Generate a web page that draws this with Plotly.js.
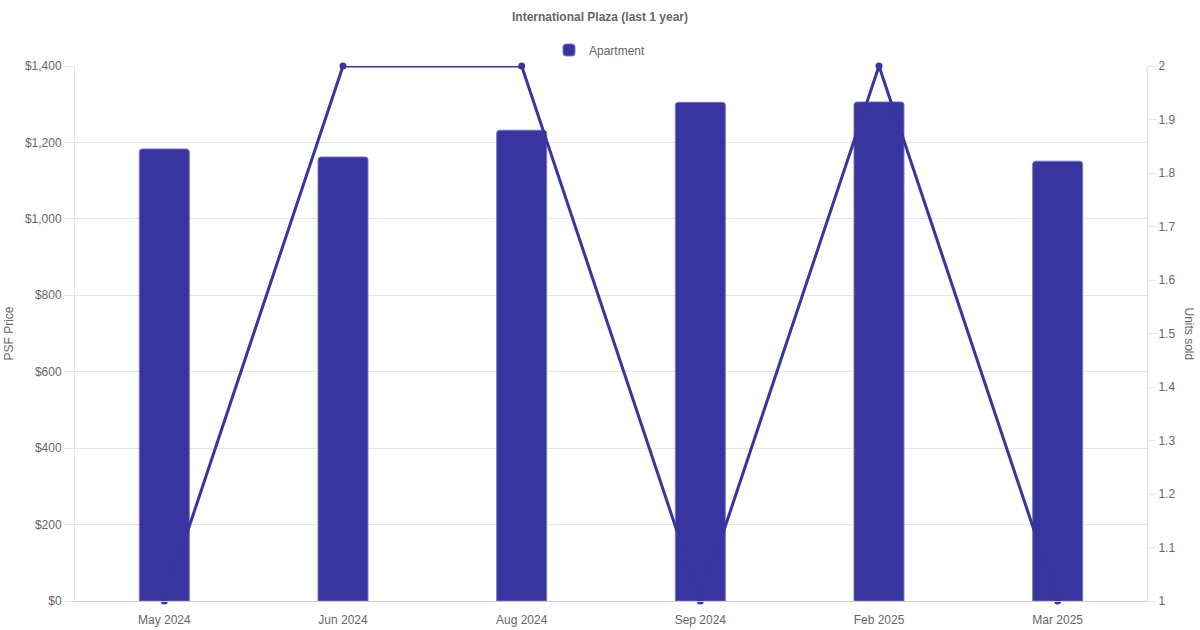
<!DOCTYPE html>
<html>
<head>
<meta charset="utf-8">
<script src="https://cdn.plot.ly/plotly-3.0.1.min.js"></script>
<style>
  html, body { margin: 0; padding: 0; background: #fff; }
  #chart { width: 1200px; height: 630px; }
</style>
</head>
<body>
<div id="chart"></div>
<script>
const months = ["May 2024", "Jun 2024", "Aug 2024", "Sep 2024", "Feb 2025", "Mar 2025"];
const psfPrice = [1183, 1162, 1232, 1305, 1306, 1151];
const unitsSold = [1, 2, 2, 1, 2, 1];
const seriesName = "Apartment";
const chartTitle = "International Plaza (last 1 year)";

const mainColor = "#3935a0";
const textColor = "#666666";
const gridColor = "#e5e5e5";
const font = { family: "Liberation Sans, Arial, Helvetica, sans-serif", size: 12, color: textColor };

const traces = [
  {
    type: "bar",
    x: months,
    y: psfPrice,
    name: seriesName,
    width: 0.28,
    marker: { color: mainColor, line: { color: "rgba(120,118,200,0.9)", width: 1 } },
    hoverinfo: "x+y"
  },
  {
    type: "scatter",
    mode: "lines+markers",
    x: months,
    y: unitsSold,
    yaxis: "y2",
    name: "Units sold",
    showlegend: false,
    cliponaxis: false,
    line: { color: mainColor, width: 3 },
    marker: { color: mainColor, size: 7 }
  }
];

const layout = {
  width: 1200,
  height: 630,
  margin: { l: 75, r: 53, t: 66, b: 29, pad: 0 },
  paper_bgcolor: "#ffffff",
  plot_bgcolor: "#ffffff",
  font: font,
  barcornerradius: 3,
  title: {
    text: "<b>" + chartTitle + "</b>",
    font: { family: font.family, size: 12, color: textColor },
    x: 0.5, xref: "container", xanchor: "center",
    y: 1 - 17 / 630, yref: "container", yanchor: "middle"
  },
  showlegend: true,
  legend: {
    orientation: "h",
    x: 0.5, xref: "container", xanchor: "center",
    y: 1 - 50 / 630, yref: "container", yanchor: "middle",
    font: { family: font.family, size: 12, color: textColor },
    bgcolor: "rgba(0,0,0,0)"
  },
  xaxis: {
    type: "category",
    range: [-0.5, 5.5],
    showgrid: false,
    showline: true,
    linecolor: "#cccccc",
    linewidth: 1,
    ticks: "outside",
    ticklen: 8,
    tickcolor: "rgba(0,0,0,0)",
    tickfont: font,
    zeroline: false,
    fixedrange: true
  },
  yaxis: {
    range: [0, 1400],
    dtick: 200,
    tick0: 0,
    tickprefix: "$",
    tickformat: ",d",
    showgrid: true,
    gridcolor: gridColor,
    gridwidth: 1,
    showline: true,
    linecolor: gridColor,
    ticks: "outside",
    ticklen: 10,
    tickcolor: gridColor,
    tickfont: font,
    zeroline: false,
    automargin: false,
    title: { text: "PSF Price", font: font, standoff: 8 },
    fixedrange: true
  },
  yaxis2: {
    overlaying: "y",
    side: "right",
    range: [1, 2],
    dtick: 0.1,
    tick0: 1,
    showgrid: false,
    showline: true,
    linecolor: gridColor,
    ticks: "outside",
    ticklen: 8,
    tickcolor: gridColor,
    tickfont: font,
    zeroline: false,
    automargin: false,
    fixedrange: true
  },
  annotations: [
    {
      text: "Units sold",
      xref: "paper", yref: "paper",
      x: (1189 - 75) / 1072, y: 0.5,
      xanchor: "center", yanchor: "middle",
      textangle: 90,
      showarrow: false,
      font: font
    }
  ]
};

Plotly.newPlot("chart", traces, layout, { displayModeBar: false, responsive: false });
</script>
</body>
</html>
